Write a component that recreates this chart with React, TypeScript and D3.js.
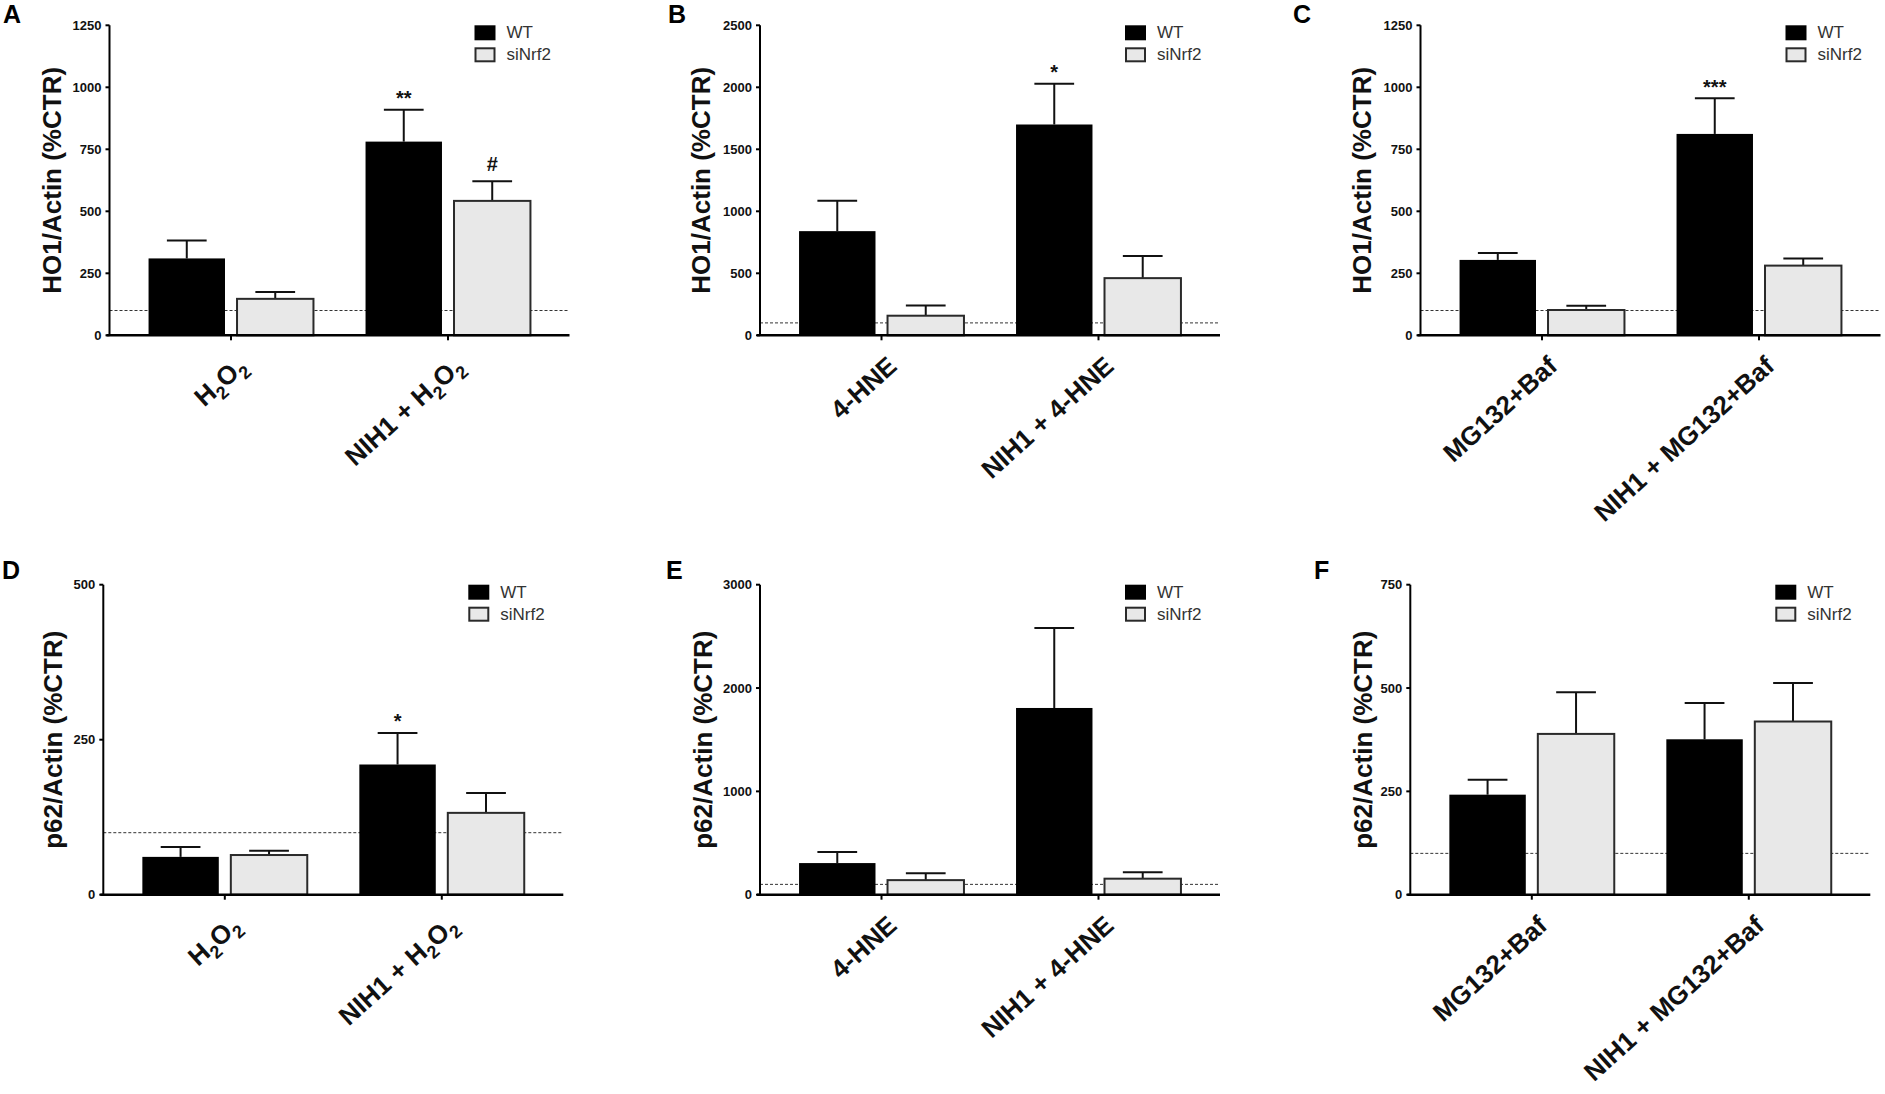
import React from 'react';
import * as d3 from 'd3';

// category labels ({2} marks a subscript)
const groupsH2O2 = ['H{2}O{2}', 'NIH1 + H{2}O{2}'];
const groupsHNE = ['4-HNE', 'NIH1 + 4-HNE'];
const groupsMG = ['MG132+Baf', 'NIH1 + MG132+Baf'];
const seriesNames = ['WT', 'siNrf2'];

// HO1/Actin (%CTR)
const hoH2O2WT = [310, 781];
const hoH2O2WTErr = [72, 128];
const hoH2O2Si = [147, 542];
const hoH2O2SiErr = [28, 79];
const hoH2O2WTSig = ['', '**'];
const hoH2O2SiSig = ['', '#'];

const hoHNEWT = [840, 1700];
const hoHNEWTErr = [246, 328];
const hoHNESi = [158, 461];
const hoHNESiErr = [82, 178];
const hoHNEWTSig = ['', '*'];
const hoHNESiSig = ['', ''];

const hoMGWT = [304, 812];
const hoMGWTErr = [28, 144];
const hoMGSi = [102, 281];
const hoMGSiErr = [17, 29];
const hoMGWTSig = ['', '***'];
const hoMGSiSig = ['', ''];

// p62/Actin (%CTR)
const p62H2O2WT = [61, 210];
const p62H2O2WTErr = [16, 51];
const p62H2O2Si = [64, 132];
const p62H2O2SiErr = [7, 32];
const p62H2O2WTSig = ['', '*'];
const p62H2O2SiSig = ['', ''];

const p62HNEWT = [306, 1807];
const p62HNEWTErr = [107, 773];
const p62HNESi = [141, 155];
const p62HNESiErr = [67, 63];
const p62HNEWTSig = ['', ''];
const p62HNESiSig = ['', ''];

const p62MGWT = [242, 376];
const p62MGWTErr = [36, 88];
const p62MGSi = [389, 419];
const p62MGSiErr = [101, 93];
const p62MGWTSig = ['', ''];
const p62MGSiSig = ['', ''];

const yTicksHO1250 = [0, 250, 500, 750, 1000, 1250];
const yTicksHO2500 = [0, 500, 1000, 1500, 2000, 2500];
const yTicksP500 = [0, 250, 500];
const yTicksP3000 = [0, 1000, 2000, 3000];
const yTicksP750 = [0, 250, 500, 750];
const controlLevel = 100;

const FONT = '"Liberation Sans", Arial, Helvetica, sans-serif';
const PLOT_W = 460;
const PLOT_H = 310;

type PanelDef = {
  letter: string;
  letterX: number;
  letterY: number;
  left: number;
  top: number;
  ylabel: string;
  ylabelOffset: number;
  groups: string[];
  ticks: number[];
  wt: number[];
  wtErr: number[];
  si: number[];
  siErr: number[];
  wtSig: string[];
  siSig: string[];
};

const panels: PanelDef[] = [
  { letter: 'A', letterX: 3, letterY: 23, left: 109.5, top: 25.3, ylabel: 'HO1/Actin (%CTR)', ylabelOffset: 58,
    groups: groupsH2O2, ticks: yTicksHO1250, wt: hoH2O2WT, wtErr: hoH2O2WTErr, si: hoH2O2Si, siErr: hoH2O2SiErr, wtSig: hoH2O2WTSig, siSig: hoH2O2SiSig },
  { letter: 'B', letterX: 668, letterY: 23, left: 760, top: 25.3, ylabel: 'HO1/Actin (%CTR)', ylabelOffset: 59,
    groups: groupsHNE, ticks: yTicksHO2500, wt: hoHNEWT, wtErr: hoHNEWTErr, si: hoHNESi, siErr: hoHNESiErr, wtSig: hoHNEWTSig, siSig: hoHNESiSig },
  { letter: 'C', letterX: 1293, letterY: 23, left: 1420.5, top: 25.3, ylabel: 'HO1/Actin (%CTR)', ylabelOffset: 59,
    groups: groupsMG, ticks: yTicksHO1250, wt: hoMGWT, wtErr: hoMGWTErr, si: hoMGSi, siErr: hoMGSiErr, wtSig: hoMGWTSig, siSig: hoMGSiSig },
  { letter: 'D', letterX: 2, letterY: 579, left: 103.3, top: 584.7, ylabel: 'p62/Actin (%CTR)', ylabelOffset: 50,
    groups: groupsH2O2, ticks: yTicksP500, wt: p62H2O2WT, wtErr: p62H2O2WTErr, si: p62H2O2Si, siErr: p62H2O2SiErr, wtSig: p62H2O2WTSig, siSig: p62H2O2SiSig },
  { letter: 'E', letterX: 666, letterY: 579, left: 760, top: 584.7, ylabel: 'p62/Actin (%CTR)', ylabelOffset: 57,
    groups: groupsHNE, ticks: yTicksP3000, wt: p62HNEWT, wtErr: p62HNEWTErr, si: p62HNESi, siErr: p62HNESiErr, wtSig: p62HNEWTSig, siSig: p62HNESiSig },
  { letter: 'F', letterX: 1314, letterY: 579, left: 1410.3, top: 584.7, ylabel: 'p62/Actin (%CTR)', ylabelOffset: 47,
    groups: groupsMG, ticks: yTicksP750, wt: p62MGWT, wtErr: p62MGWTErr, si: p62MGSi, siErr: p62MGSiErr, wtSig: p62MGWTSig, siSig: p62MGSiSig },
];

// split "H{2}O{2}" into normal / subscript pieces
const renderLabel = (label: string) => {
  const parts = label.split(/(\{[^}]*\})/).filter(p => p.length);
  let sub = false;
  return parts.map((p, i) => {
    if (p.startsWith('{')) {
      const el = <tspan key={i} dy={7} fontSize={18}>{p.slice(1, -1)}</tspan>;
      sub = true;
      return el;
    }
    const el = <tspan key={i} dy={sub ? -7 : 0}>{p}</tspan>;
    sub = false;
    return el;
  });
};

const Panel: React.FC<{ p: PanelDef }> = ({ p }) => {
  const yMax = p.ticks[p.ticks.length - 1];
  const y = d3.scaleLinear().domain([0, yMax]).range([PLOT_H, 0]);
  const x0 = d3.scaleBand().domain(p.groups).range([0, PLOT_W]).paddingInner(0.24).paddingOuter(0.18);
  const x1 = d3.scaleBand().domain(seriesNames).range([0, x0.bandwidth()]).paddingInner(0.136);
  const bw = x1.bandwidth();
  const capW = bw * 0.52;

  const series = [
    { name: 'WT', vals: p.wt, errs: p.wtErr, sig: p.wtSig, fill: '#000', stroke: '#000' },
    { name: 'siNrf2', vals: p.si, errs: p.siErr, sig: p.siSig, fill: '#e8e8e8', stroke: '#2a2a2a' },
  ];

  return (
    <g>
      <text x={p.letterX} y={p.letterY} fontSize={25} fontWeight="bold" fontFamily={FONT}>{p.letter}</text>
      <g transform={`translate(${p.left},${p.top})`}>
        {/* control reference line */}
        <line x1={0} x2={PLOT_W} y1={y(controlLevel)} y2={y(controlLevel)} stroke="#333" strokeWidth={1} strokeDasharray="3,2" />

        {series.map(s =>
          p.groups.map((g, i) => {
            const bx = (x0(g) ?? 0) + (x1(s.name) ?? 0);
            const cx = bx + bw / 2;
            const top = y(s.vals[i]);
            const et = y(s.vals[i] + s.errs[i]);
            return (
              <g key={s.name + g}>
                <line x1={cx} x2={cx} y1={top} y2={et} stroke="#111" strokeWidth={2} />
                <line x1={cx - capW / 2} x2={cx + capW / 2} y1={et} y2={et} stroke="#111" strokeWidth={2} />
                <rect x={bx} y={top} width={bw} height={PLOT_H - top} fill={s.fill}
                  stroke={s.stroke} strokeWidth={s.name === 'WT' ? 0 : 2} />
                {s.sig[i] && (
                  <text x={cx} y={et - (s.sig[i] === '#' ? 10 : 4.5)} textAnchor="middle" fontSize={20}
                    fontWeight="bold" fontFamily={FONT} fill="#111">{s.sig[i]}</text>
                )}
              </g>
            );
          })
        )}

        {/* y axis */}
        <line x1={0} x2={0} y1={0} y2={PLOT_H} stroke="#000" strokeWidth={2} />
        {p.ticks.map(t => (
          <g key={t} transform={`translate(0,${y(t)})`}>
            <line x1={-4} x2={0} stroke="#000" strokeWidth={2} />
            <text x={-8} dy="0.35em" textAnchor="end" fontSize={13} fontWeight="bold" fontFamily={FONT} fill="#111">{t}</text>
          </g>
        ))}
        <text transform={`translate(${-p.ylabelOffset},${PLOT_H / 2}) rotate(-90)`} textAnchor="middle" dy="0.35em"
          fontSize={26} fontWeight="bold" fontFamily={FONT} fill="#111">{p.ylabel}</text>

        {/* x axis */}
        <line x1={-3} x2={PLOT_W} y1={PLOT_H} y2={PLOT_H} stroke="#000" strokeWidth={2.5} />
        {p.groups.map(g => {
          const cx = (x0(g) ?? 0) + x0.bandwidth() / 2;
          return (
            <g key={g}>
              <line x1={cx} x2={cx} y1={PLOT_H} y2={PLOT_H + 5} stroke="#000" strokeWidth={2} />
              <text transform={`translate(${cx + 17},${PLOT_H + 33}) rotate(-42)`} textAnchor="end"
                fontSize={26} fontWeight="bold" fontFamily={FONT} fill="#111">{renderLabel(g)}</text>
            </g>
          );
        })}

        {/* legend */}
        <g transform={`translate(365,0)`}>
          {series.map((s, i) => (
            <g key={s.name} transform={`translate(0,${i * 22})`}>
              <rect x={1} y={1} width={19} height={13} fill={s.fill} stroke={s.stroke} strokeWidth={2} />
              <text x={32} y={13} fontSize={17} fontFamily={FONT} fill="#333">{s.name}</text>
            </g>
          ))}
        </g>
      </g>
    </g>
  );
};

const App: React.FC = () => (
  <svg width={1885} height={1094} viewBox="0 0 1885 1094"
    style={{ position: 'absolute', left: 0, top: 0, background: '#fff' }}>
    <rect width={1885} height={1094} fill="#fff" />
    {panels.map(p => <Panel key={p.letter} p={p} />)}
  </svg>
);

export default App;
